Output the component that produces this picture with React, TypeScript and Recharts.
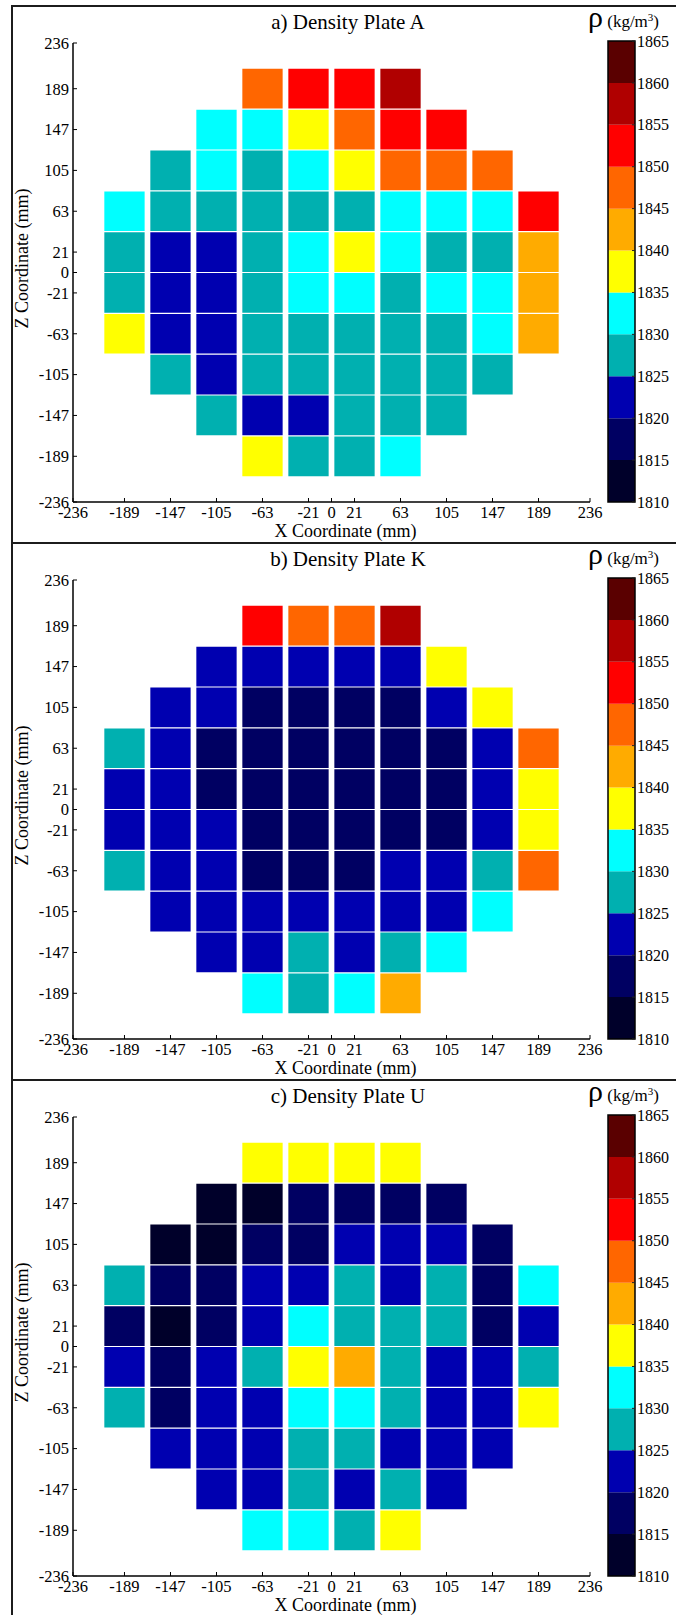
import React from 'react';
import { ComposedChart, XAxis, YAxis, ReferenceArea, Label } from 'recharts';

// ---------- data ----------
const X_CENTERS = [-189, -147, -105, -63, -21, 21, 63, 105, 147, 189];
const Z_CENTERS = [189, 147, 105, 63, 21, -21, -63, -105, -147, -189];
const AXIS_TICKS = [-236, -189, -147, -105, -63, -21, 0, 21, 63, 105, 147, 189, 236];
const CB_TICKS = [1810, 1815, 1820, 1825, 1830, 1835, 1840, 1845, 1850, 1855, 1860, 1865];
const BAND_COLORS = [
  '#00002a', '#000062', '#0000b0', '#00b0b0', '#00ffff', '#ffff00',
  '#ffab00', '#ff6600', '#ff0000', '#b00000', '#5a0000',
];
const PANEL_TITLES = ['a) Density Plate A', 'b) Density Plate K', 'c) Density Plate U'];

const _ = null;
// rows: Z = 189 ... -189 ; columns: X = -189 ... 189 ; density in kg/m^3
const DENSITY_A = [
  [_, _, _, 1847.5, 1852.5, 1852.5, 1857.5, _, _, _],
  [_, _, 1832.5, 1832.5, 1837.5, 1847.5, 1852.5, 1852.5, _, _],
  [_, 1827.5, 1832.5, 1827.5, 1832.5, 1837.5, 1847.5, 1847.5, 1847.5, _],
  [1832.5, 1827.5, 1827.5, 1827.5, 1827.5, 1827.5, 1832.5, 1832.5, 1832.5, 1852.5],
  [1827.5, 1822.5, 1822.5, 1827.5, 1832.5, 1837.5, 1832.5, 1827.5, 1827.5, 1842.5],
  [1827.5, 1822.5, 1822.5, 1827.5, 1832.5, 1832.5, 1827.5, 1832.5, 1832.5, 1842.5],
  [1837.5, 1822.5, 1822.5, 1827.5, 1827.5, 1827.5, 1827.5, 1827.5, 1832.5, 1842.5],
  [_, 1827.5, 1822.5, 1827.5, 1827.5, 1827.5, 1827.5, 1827.5, 1827.5, _],
  [_, _, 1827.5, 1822.5, 1822.5, 1827.5, 1827.5, 1827.5, _, _],
  [_, _, _, 1837.5, 1827.5, 1827.5, 1832.5, _, _, _],
];
const DENSITY_K = [
  [_, _, _, 1852.5, 1847.5, 1847.5, 1857.5, _, _, _],
  [_, _, 1822.5, 1822.5, 1822.5, 1822.5, 1822.5, 1837.5, _, _],
  [_, 1822.5, 1822.5, 1817.5, 1817.5, 1817.5, 1817.5, 1822.5, 1837.5, _],
  [1827.5, 1822.5, 1817.5, 1817.5, 1817.5, 1817.5, 1817.5, 1817.5, 1822.5, 1847.5],
  [1822.5, 1822.5, 1817.5, 1817.5, 1817.5, 1817.5, 1817.5, 1817.5, 1822.5, 1837.5],
  [1822.5, 1822.5, 1822.5, 1817.5, 1817.5, 1817.5, 1817.5, 1817.5, 1822.5, 1837.5],
  [1827.5, 1822.5, 1822.5, 1817.5, 1817.5, 1817.5, 1822.5, 1822.5, 1827.5, 1847.5],
  [_, 1822.5, 1822.5, 1822.5, 1822.5, 1822.5, 1822.5, 1822.5, 1832.5, _],
  [_, _, 1822.5, 1822.5, 1827.5, 1822.5, 1827.5, 1832.5, _, _],
  [_, _, _, 1832.5, 1827.5, 1832.5, 1842.5, _, _, _],
];
const DENSITY_U = [
  [_, _, _, 1837.5, 1837.5, 1837.5, 1837.5, _, _, _],
  [_, _, 1812.5, 1812.5, 1817.5, 1817.5, 1817.5, 1817.5, _, _],
  [_, 1812.5, 1812.5, 1817.5, 1817.5, 1822.5, 1822.5, 1822.5, 1817.5, _],
  [1827.5, 1817.5, 1817.5, 1822.5, 1822.5, 1827.5, 1822.5, 1827.5, 1817.5, 1832.5],
  [1817.5, 1812.5, 1817.5, 1822.5, 1832.5, 1827.5, 1827.5, 1827.5, 1817.5, 1822.5],
  [1822.5, 1817.5, 1822.5, 1827.5, 1837.5, 1842.5, 1827.5, 1822.5, 1822.5, 1827.5],
  [1827.5, 1817.5, 1822.5, 1822.5, 1832.5, 1832.5, 1827.5, 1822.5, 1822.5, 1837.5],
  [_, 1822.5, 1822.5, 1822.5, 1827.5, 1827.5, 1822.5, 1822.5, 1822.5, _],
  [_, _, 1822.5, 1822.5, 1827.5, 1822.5, 1827.5, 1822.5, _, _],
  [_, _, _, 1832.5, 1832.5, 1827.5, 1837.5, _, _, _],
];
const PANEL_DATA = [DENSITY_A, DENSITY_K, DENSITY_U];

// ---------- styling / layout ----------
const FONT = '"Liberation Serif", "Times New Roman", serif';
const CELL_HALF_X = 18.4; // mm (white gap between columns)
const CELL_HALF_Z = 20.4; // mm
const PANEL_H = 537;
const PANEL_TOP0 = 5;
const RHO_MIN = 1810;
const RHO_MAX = 1865;
const RHO_STEP = 5;

const colorFor = (v: number) => {
  let i = Math.floor((v - RHO_MIN) / RHO_STEP);
  if (i < 0) i = 0;
  if (i > BAND_COLORS.length - 1) i = BAND_COLORS.length - 1;
  return BAND_COLORS[i];
};

const toCells = (grid: (number | null)[][]) => {
  const out: { x: number; z: number; rho: number }[] = [];
  grid.forEach((row, r) =>
    row.forEach((v, c) => {
      if (v !== null) out.push({ x: X_CENTERS[c], z: Z_CENTERS[r], rho: v });
    })
  );
  return out;
};

const XLabel = (props: any) => {
  const vb = props.viewBox || {};
  return (
    <text
      x={vb.x + vb.width / 2 + 14}
      y={vb.y + 29}
      textAnchor="middle"
      dominantBaseline="central"
      fontFamily={FONT}
      fontSize={18}
      fill="#000"
    >
      X Coordinate (mm)
    </text>
  );
};

const ZLabel = (props: any) => {
  const vb = props.viewBox || {};
  const cx = vb.x - 1.5;
  const cy = vb.y + vb.height / 2 - 14;
  return (
    <text
      x={cx}
      y={cy}
      transform={`rotate(-90 ${cx} ${cy})`}
      textAnchor="middle"
      dominantBaseline="central"
      fontFamily={FONT}
      fontSize={18}
      fill="#000"
    >
      Z Coordinate (mm)
    </text>
  );
};

const tickStyle = { fontSize: 16.5, fill: '#000', fontFamily: FONT };

const Panel = ({ idx }: { idx: number }) => {
  const top = PANEL_TOP0 + idx * PANEL_H;
  const cells = toCells(PANEL_DATA[idx]);
  const bands = CB_TICKS.slice(0, -1).map((lo, i) => ({
    lo, hi: CB_TICKS[i + 1], color: BAND_COLORS[i], pos: 0.5,
  }));
  return (
    <>
      <div
        style={{
          position: 'absolute', left: 11, top, width: 676 - 11, height: PANEL_H,
          borderTop: '2px solid #1c1c1c', borderLeft: '2px solid #1c1c1c', boxSizing: 'border-box',
        }}
      />
      <div
        style={{
          position: 'absolute', left: 0, width: 696, top: top + 6, textAlign: 'center',
          fontFamily: FONT, fontSize: 21, lineHeight: '22px', color: '#000',
        }}
      >
        {PANEL_TITLES[idx]}
      </div>
      <div
        style={{
          position: 'absolute', left: 588, top: top - 3, fontFamily: FONT, color: '#000',
          whiteSpace: 'nowrap', lineHeight: '30px',
        }}
      >
        <span style={{ fontSize: 30 }}>ρ</span>
        <span style={{ fontSize: 17 }}>
          {' '}(kg/m<sup style={{ fontSize: 11, verticalAlign: '6px' }}>3</sup>)
        </span>
      </div>
      <div style={{ position: 'absolute', left: 0, top }}>
        <ComposedChart
          width={620}
          height={PANEL_H}
          data={cells}
          margin={{ top: 38, right: 30, bottom: 0, left: 23 }}
        >
          <XAxis
            type="number"
            dataKey="x"
            domain={[-236, 236]}
            ticks={AXIS_TICKS}
            interval={0}
            allowDataOverflow
            height={40}
            tickSize={-4}
            tickMargin={8}
            tick={tickStyle}
            axisLine={{ stroke: '#000', strokeWidth: 1.5 }}
            tickLine={{ stroke: '#000', strokeWidth: 1 }}
          >
            <Label content={<XLabel />} />
          </XAxis>
          <YAxis
            type="number"
            dataKey="z"
            domain={[-236, 236]}
            ticks={AXIS_TICKS}
            interval={0}
            allowDataOverflow
            width={50}
            tickSize={-4}
            tickMargin={8}
            tick={tickStyle}
            axisLine={{ stroke: '#000', strokeWidth: 1.5 }}
            tickLine={{ stroke: '#000', strokeWidth: 1 }}
          >
            <Label content={<ZLabel />} />
          </YAxis>
          {cells.map((c, i) => (
            <ReferenceArea
              key={i}
              x1={c.x - CELL_HALF_X}
              x2={c.x + CELL_HALF_X}
              y1={c.z - CELL_HALF_Z}
              y2={c.z + CELL_HALF_Z}
              fill={colorFor(c.rho)}
              fillOpacity={1}
              stroke="none"
              ifOverflow="visible"
            />
          ))}
        </ComposedChart>
      </div>
      <div style={{ position: 'absolute', left: 600, top }}>
        <ComposedChart
          width={76}
          height={PANEL_H}
          data={bands}
          margin={{ top: 36, right: 1, bottom: 40, left: 8 }}
        >
          <XAxis type="number" dataKey="pos" domain={[0, 1]} allowDataOverflow hide />
          <YAxis
            orientation="right"
            type="number"
            dataKey="hi"
            domain={[RHO_MIN, RHO_MAX]}
            allowDataOverflow
            ticks={CB_TICKS}
            interval={0}
            width={40}
            tickSize={-3}
            tickMargin={5}
            axisLine={false}
            tick={{ fontSize: 16, fill: '#000', fontFamily: FONT }}
            tickLine={{ stroke: '#222', strokeWidth: 1 }}
          />
          {bands.map((b, i) => (
            <ReferenceArea
              key={i}
              x1={0}
              x2={1}
              y1={b.lo}
              y2={b.hi}
              fill={b.color}
              fillOpacity={1}
              stroke="none"
              ifOverflow="visible"
            />
          ))}
          <ReferenceArea
            x1={0}
            x2={1}
            y1={RHO_MIN}
            y2={RHO_MAX}
            fill="none"
            fillOpacity={0}
            stroke="#000"
            strokeWidth={1.5}
            ifOverflow="visible"
          />
        </ComposedChart>
      </div>
    </>
  );
};

export default function App() {
  return (
    <div
      style={{
        position: 'absolute', left: 0, top: 0, width: 676, height: 1615,
        overflow: 'hidden', background: '#fff',
      }}
    >
      {[0, 1, 2].map((i) => (
        <Panel key={i} idx={i} />
      ))}
    </div>
  );
}
